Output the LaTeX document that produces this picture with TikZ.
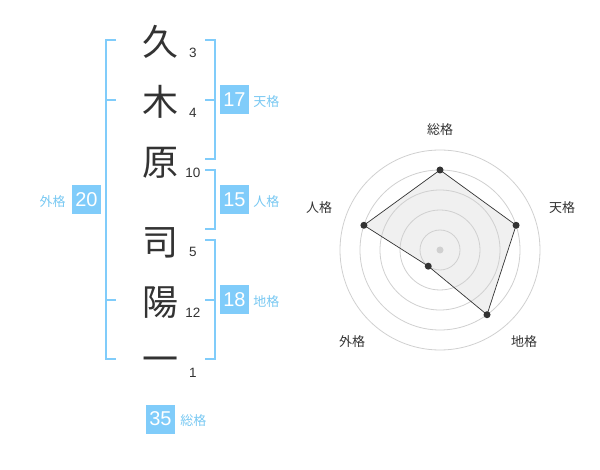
\documentclass[tikz,border=0pt]{standalone}
\usepackage{fontspec}
\setmainfont{Liberation Sans}
\newfontfamily\cjk{Noto Sans CJK JP}
\usetikzlibrary{positioning}
\definecolor{skyb}{RGB}{128,204,250}
\definecolor{labb}{RGB}{120,200,242}
\definecolor{ink}{RGB}{51,51,51}
\definecolor{ringc}{RGB}{208,208,208}
\definecolor{areac}{RGB}{240,240,240}
\tikzset{
  kanji/.style={font=\cjk\fontsize{36}{36}\selectfont,text=ink,inner sep=0pt,anchor=base},
  strokes/.style={font=\fontsize{13.5}{14}\selectfont,text=ink,inner sep=0pt},
  numbox/.style={fill=skyb,text=white,font=\fontsize{20}{20}\selectfont,minimum size=29pt,inner sep=0pt},
  kaku/.style={font=\cjk\fontsize{13}{13}\selectfont,text=labb,inner sep=0pt},
  brace/.style={draw=skyb,line width=2pt},
  axislabel/.style={font=\cjk\fontsize{13}{13}\selectfont,text=ink,inner sep=0pt},
  dot/.style={circle,fill=ink,inner sep=0pt,minimum size=7pt},
}
\begin{document}
\begin{tikzpicture}[x=1pt,y=-1pt]
\useasboundingbox (0,0) rectangle (600,470);

        % name and strokes
        \begin{scope}[every node/.style={kanji}]
          \node (c1) at (160,56)  {久};
          \node (c2) at (160,116) {木};
          \node (c3) at (160,176) {原};
          \node (c4) at (160,256) {司};
          \node (c5) at (160,316) {陽};
          \node (c6) at (160,373) {一};
        \end{scope}

        \begin{scope}[every node/.style={strokes}]
          \node (s1) at (193,53)  {3};
          \node (s2) at (193,113) {4};
          \node (s3) at (193,173) {10};
          \node (s4) at (193,252) {5};
          \node (s5) at (193,313) {12};
          \node (s6) at (193,373) {1};
        \end{scope}

        % brackets
        \draw[brace] (116,40) -- (106,40) -- (106,359) -- (116,359);
        \draw[brace] (106,100) -- (116,100);
        \draw[brace] (106,300) -- (116,300);
        \draw[brace] (205,40) -- (215,40) -- (215,159) -- (205,159);
        \draw[brace] (205,100) -- (215,100);
        \draw[brace] (205,170) -- (215,170) -- (215,229) -- (205,229);
        \draw[brace] (205,240) -- (215,240) -- (215,359) -- (205,359);
        \draw[brace] (205,300) -- (215,300);

        % totals
        \node[numbox] (ten) at (234.5,100) {17};
        \node[kaku,right=4pt of ten,yshift=-2pt] (ten-l) {天格};
        \node[numbox] (jin) at (234.5,200) {15};
        \node[kaku,right=4pt of jin,yshift=-2pt] (jin-l) {人格};
        \node[numbox] (chi) at (234.5,300) {18};
        \node[kaku,right=4pt of chi,yshift=-2pt] (chi-l) {地格};
        \node[numbox] (gai) at (86.5,200) {20};
        \node[kaku,left=6pt of gai,yshift=-2pt] (gai-l) {外格};
        \node[numbox] (sou) at (160.5,419) {35};
        \node[kaku,right=5pt of sou,yshift=-2pt] (sou-l) {総格};

        % radar
        \begin{scope}[shift={(440,250)},y=1pt]
          \coordinate (p-sou) at (90:80);
          \coordinate (p-ten) at (18:80);
          \coordinate (p-chi) at (-54:80);
          \coordinate (p-gai) at (-126:20);
          \coordinate (p-jin) at (162:80);
          \fill[areac] (p-sou) -- (p-ten) -- (p-chi) -- (p-gai) -- (p-jin) -- cycle;
          \foreach \r in {20,40,60,80,100}
            \draw[ringc,line width=0.8pt] (0,0) circle (\r);
          \draw[ink,line width=0.7pt]
            (p-sou) -- (p-ten) -- (p-chi) -- (p-gai) -- (p-jin) -- cycle;
          \node[circle,fill=ringc,inner sep=0pt,minimum size=7pt] (mid) at (0,0) {};
          \foreach \p in {sou,ten,chi,gai,jin}
            \node[dot] (d-\p) at (p-\p) {};

          \begin{scope}[every node/.style={axislabel}]
            \node (a-sou) at (0,120)    {総格};
            \node (a-ten) at (122,42)   {天格};
            \node (a-jin) at (-121,42)  {人格};
            \node (a-chi) at (84,-92)   {地格};
            \node (a-gai) at (-88,-92)  {外格};
          \end{scope}
        \end{scope}

      \end{tikzpicture}
\end{document}
